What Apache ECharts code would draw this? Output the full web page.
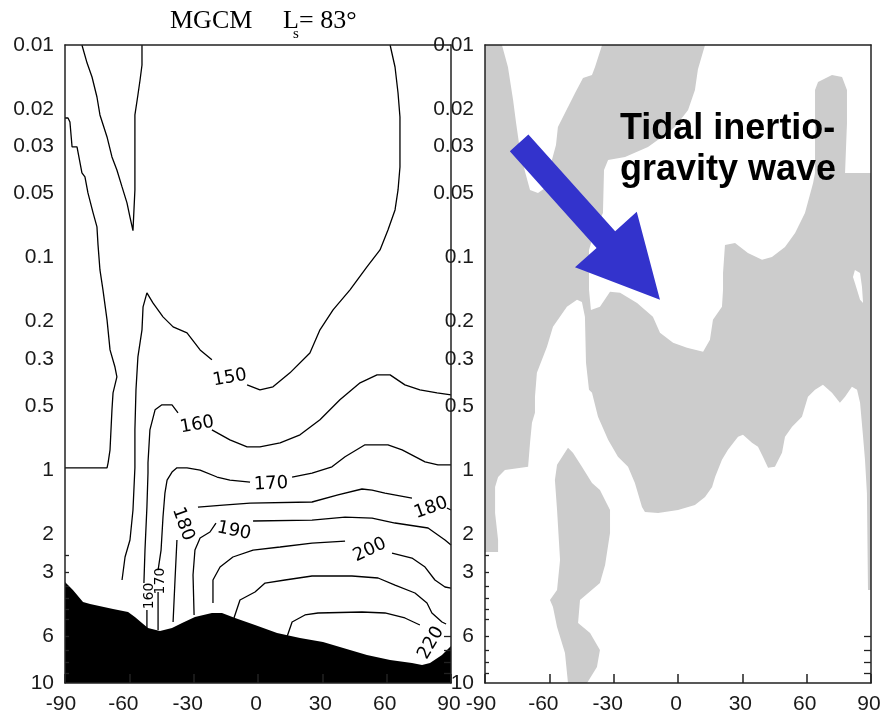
<!DOCTYPE html>
<html>
<head>
<meta charset="utf-8">
<title>MGCM Ls = 83</title>
<script src="https://cdn.jsdelivr.net/npm/echarts@6/dist/echarts.min.js"></script>
<style>
  html, body { margin: 0; padding: 0; background: #fff; }
  #main { width: 884px; height: 718px; }
</style>
</head>
<body>
<div id="main"></div>
<script>
// axes: latitude (deg) and pressure (mbar, log scale, top = 0.01)
const latTicks = [-90, -60, -30, 0, 30, 60, 90];
const pTicks = [0.01, 0.02, 0.03, 0.05, 0.1, 0.2, 0.3, 0.5, 1, 2, 3, 6, 10];
const pTickText = ['0.01', '0.02', '0.03', '0.05', '0.1', '0.2', '0.3', '0.5', '1', '2', '3', '6', '10'];
const pMinor = [2.5, 3, 3.5, 4, 4.5, 5, 6, 7, 8, 9];
const pMinorRight = [6, 7, 8, 9];

// left panel: temperature contours, points are [lat, p]
const c140a = [[-82.1, 0.0100], [-79.7, 0.01216], [-77.4, 0.01414], [-75.1, 0.01756], [-73.7, 0.02133], [-70.4, 0.02706], [-68.1, 0.03361], [-65.8, 0.03869], [-63.4, 0.04648], [-61.1, 0.05528], [-59.7, 0.06441], [-58.3, 0.07461], [-57.4, 0.04803], [-57.4, 0.03115], [-57.4, 0.02133], [-56.0, 0.01718], [-55.0, 0.01461], [-54.1, 0.01242], [-54.1, 0.0100]];
const c140b = [[-90, 0.02204], [-88.6, 0.02204], [-87.7, 0.02301], [-86.7, 0.03016], [-84.4, 0.03016], [-82.1, 0.03996], [-80.7, 0.04173], [-79.3, 0.04961], [-76.9, 0.0616], [-75.1, 0.07167], [-74.6, 0.0871], [-73.7, 0.1142], [-72.3, 0.1417], [-70.4, 0.1961], [-69.0, 0.2714], [-66.7, 0.3268], [-65.8, 0.3634], [-67.6, 0.4321], [-68.1, 0.5194], [-69.0, 0.8007], [-69.9, 0.9218], [-70.4, 0.973], [-90, 0.973]];
const c150a = [[61.6, 0.0100], [63.9, 0.01269], [65.3, 0.01682], [66.2, 0.0218], [66.2, 0.03745], [65.3, 0.04803], [63.9, 0.05964], [60.6, 0.07405], [56.9, 0.09194], [50.8, 0.1105], [42.9, 0.1417], [35.0, 0.176], [28.9, 0.2185], [24.2, 0.2808], [14.9, 0.348], [7.0, 0.405], [0.9, 0.4183], [-5.1, 0.3963]];
const c150b = [[-21.5, 0.3023], [-27.0, 0.2714], [-33.1, 0.2257], [-39.6, 0.2115], [-44.3, 0.1898], [-49.0, 0.1632], [-51.8, 0.1464], [-52.7, 0.1448], [-53.6, 0.1703], [-54.1, 0.2185], [-56.0, 0.2927], [-56.9, 0.4183], [-57.4, 0.6449], [-57.4, 0.973], [-58.3, 1.537], [-59.7, 2.127], [-62.0, 2.556], [-63.4, 3.279]];
const c160a = [[-21.5, 0.6449], [-13.1, 0.7187], [-5.1, 0.7752], [0.9, 0.7752], [10.3, 0.7424], [19.6, 0.6808], [28.9, 0.5788], [38.2, 0.4661], [47.6, 0.3878], [55.5, 0.3556], [61.6, 0.3556], [68.5, 0.3963], [75.5, 0.4183], [83.5, 0.4321], [90, 0.4416]];
const c160b = [[-37.3, 0.5365], [-40.1, 0.492], [-44.8, 0.492], [-48.0, 0.5194], [-50.4, 0.6449], [-51.3, 0.9218], [-51.3, 1.03], [-51.8, 1.488], [-52.7, 2.37], [-53.2, 3.388]];
const c160c = [[-51.8, 4.536], [-51.8, 5.513]];
const c170a = [[-3.7, 1.135], [-13.1, 1.111], [-19.1, 1.075], [-27.0, 0.9967], [-33.1, 0.973], [-37.8, 0.973], [-40.1, 1.019], [-42.4, 1.111], [-43.4, 1.279], [-44.3, 1.658], [-45.2, 2.37], [-46.6, 2.943]];
const c170b = [[-46.6, 3.734], [-46.6, 5.633]];
const c170c = [[15.9, 1.075], [25.2, 1.03], [34.5, 0.9625], [40.6, 0.8638], [49.9, 0.7586], [60.6, 0.7586], [67.2, 0.8007], [77.9, 0.9118], [83.9, 0.9419], [90, 0.9419]];
const c180a = [[-28.0, 1.488], [-16.3, 1.456], [-3.7, 1.425], [25.2, 1.409], [37.3, 1.306], [48.5, 1.224], [53.2, 1.238], [59.2, 1.279], [71.8, 1.35]];
const c180b = [[88.1, 1.504], [90, 1.537]];
const c180c = [[-37.8, 2.127], [-38.7, 3.279], [-39.6, 5.165]];
const c190a = [[-2.3, 1.731], [25.2, 1.713], [40.6, 1.658], [53.2, 1.676], [63.9, 1.769], [79.3, 1.867], [87.2, 2.127], [90, 2.245]];
const c190b = [[-19.6, 1.769], [-22.4, 1.95], [-27.0, 2.081], [-29.4, 2.37], [-30.3, 3.106], [-29.8, 4.788]];
const c200a = [[-21.0, 4.206], [-21.0, 3.279], [-17.7, 2.849], [-11.7, 2.556], [-2.3, 2.37], [10.3, 2.294], [25.2, 2.197], [40.6, 2.15]];
const c200b = [[62.5, 2.448], [71.8, 2.584], [77.9, 2.849], [82.5, 3.279], [87.2, 3.537], [90, 3.576]];
const c210 = [[-11.2, 4.946], [-8.4, 4.072], [-1.4, 3.734], [3.3, 3.388], [12.6, 3.279], [25.2, 3.14], [43.8, 3.14], [56.0, 3.209], [63.9, 3.462], [73.2, 3.774], [78.8, 4.206], [81.1, 4.686], [85.8, 5.165], [87.7, 5.279]];
const c220 = [[13.5, 6.077], [15.9, 5.165], [21.9, 4.788], [28.0, 4.686], [48.5, 4.636], [59.2, 4.686], [68.5, 4.946], [75.5, 5.336]];
const contours = [c140a, c140b, c150a, c150b, c160a, c160b, c160c, c170a, c170b, c170c,
  c180a, c180b, c180c, c190a, c190b, c200a, c200b, c210, c220];

// contour labels
const labelPos = [[-13.1, 0.368], [-28.4, 0.611], [6.1, 1.16], [80.7, 1.504], [-35.0, 1.789], [-11.2, 1.929], [52.2, 2.37], [80.7, 6.484], [-50.8, 3.899], [-45.7, 3.315]];
const labelText = ['150', '160', '170', '180', '180', '190', '200', '220', '160', '170'];
const labelAngle = [10, 10, 3, 20, -70, -12, 25, 60, 90, 90];

// surface topography (top of the black area)
const terrain = [[-90, 3.351], [-86.3, 3.654], [-81.6, 4.161], [-78.3, 4.252], [-67.6, 4.487], [-60.6, 4.636], [-57.4, 4.893], [-54.1, 5.222], [-51.3, 5.513], [-45.7, 5.694], [-40.1, 5.513], [-35.4, 5.222], [-29.4, 4.893], [-21.5, 4.686], [-16.8, 4.686], [-10.7, 4.946], [-1.4, 5.336], [8.9, 5.819], [19.6, 6.143], [30.3, 6.414], [42.9, 6.994], [50.8, 7.383], [61.6, 7.792], [71.8, 8.05], [76.5, 8.226], [80.2, 8.05], [85.8, 7.383], [90, 6.698]];

// right panel: shaded area, drawn as the whole panel minus clear areas plus one shaded band
const shadeAll = [[-90, 0.01], [90, 0.01], [90, 10], [-90, 10]];
const clearTopLeft = [[-82.1, 0.0100], [-35.4, 0.0100], [-38.7, 0.01269], [-40.1, 0.01384], [-44.3, 0.0143], [-48.0, 0.01682], [-52.7, 0.02088], [-56.0, 0.02429], [-56.9, 0.02951], [-58.8, 0.03472], [-60.6, 0.04083], [-62.0, 0.04699], [-65.3, 0.04961], [-69.0, 0.04803], [-71.3, 0.03953], [-73.7, 0.03115], [-75.5, 0.02326], [-76.9, 0.01813], [-79.3, 0.01269]];
const clearTopRight = [[12.6, 0.0100], [90, 0.0100], [90, 0.03996], [77.9, 0.03996], [78.8, 0.02326], [78.8, 0.01627], [76.5, 0.01414], [71.8, 0.01384], [65.3, 0.01494], [63.9, 0.01627], [63.9, 0.03996], [63.0, 0.04457], [59.2, 0.0616], [54.6, 0.0765], [49.9, 0.089], [43.8, 0.09918], [39.2, 0.1024], [32.6, 0.09497], [26.6, 0.08524], [21.9, 0.0871], [21.0, 0.1179], [21.0, 0.1417], [20.5, 0.1703], [16.3, 0.1961], [14.9, 0.2435], [11.7, 0.2773], [4.2, 0.2655], [-2.3, 0.2515], [-8.4, 0.2257], [-11.7, 0.1898], [-19.1, 0.1632], [-27.0, 0.1464], [-31.7, 0.1448], [-36.4, 0.1703], [-40.6, 0.176], [-41.5, 0.1417], [-41.5, 0.09194], [-38.7, 0.07405], [-35.0, 0.0616], [-34.5, 0.03869], [-32.6, 0.03472], [-24.7, 0.03361], [-14.0, 0.03016], [-7.5, 0.02706], [-1.4, 0.02429], [4.7, 0.02021], [7.9, 0.01627], [9.3, 0.0130]];
const clearSpot = [[82.5, 0.1142], [84.9, 0.1179], [85.8, 0.1374], [86.3, 0.1632], [84.9, 0.1579], [82.5, 0.1316], [81.6, 0.1234]];
const clearLower = [[-90, 2.421], [-83.9, 2.421], [-83.9, 2.127], [-85.3, 1.587], [-85.3, 1.198], [-83.9, 1.075], [-80.7, 0.9967], [-69.9, 0.9625], [-69.0, 0.7424], [-68.1, 0.5978], [-66.7, 0.5365], [-66.7, 0.4513], [-65.8, 0.348], [-61.1, 0.2627], [-58.3, 0.2115], [-51.8, 0.1703], [-47.1, 0.1579], [-44.8, 0.1614], [-43.4, 0.1898], [-42.9, 0.3123], [-41.5, 0.4183], [-40.1, 0.4321], [-37.3, 0.5603], [-32.6, 0.7187], [-28.0, 0.8638], [-23.3, 0.9625], [-20.1, 1.147], [-16.8, 1.488], [-15.4, 1.57], [-9.3, 1.587], [0, 1.537], [7.9, 1.456], [12.6, 1.335], [15.9, 1.198], [17.3, 1.075], [20.5, 0.8922], [23.3, 0.8007], [28.0, 0.6957], [30.3, 0.6808], [34.5, 0.7424], [37.3, 0.7752], [39.6, 0.8638], [42.0, 0.973], [45.2, 0.9625], [48.5, 0.8271], [49.9, 0.6957], [53.2, 0.6243], [57.8, 0.5603], [60.6, 0.4513], [63.9, 0.4183], [67.6, 0.3963], [71.8, 0.4321], [75.5, 0.4815], [77.9, 0.4513], [81.1, 0.405], [83.5, 0.4183], [84.9, 0.4815], [86.3, 0.6957], [87.2, 0.8922], [88.1, 1.279], [88.6, 3.654], [90, 3.654], [90, 10], [-90, 10]];
const shadeLowBand = [[-51.3, 0.7836], [-56.4, 0.9419], [-57.4, 1.111], [-56.4, 1.537], [-55.0, 2.641], [-56.4, 3.654], [-59.7, 4.072], [-58.3, 4.392], [-56.4, 5.453], [-52.7, 7.225], [-51.3, 10], [-42.4, 10], [-37.8, 8.406], [-36.4, 6.994], [-41.0, 5.819], [-46.6, 5.222], [-45.7, 4.072], [-36.4, 3.388], [-34.0, 2.788], [-31.7, 1.971], [-31.7, 1.537], [-36.4, 1.238], [-40.1, 1.147], [-44.8, 0.9625], [-49.0, 0.8271]];

// arrow annotation: tail and tip [lat, p]
const arrowTail = [-74.1, 0.02888];
const arrowTip = [-8.4, 0.1579];

const lp = p => Math.log10(p);
const FONT = '"Liberation Sans", Arial, sans-serif';
const FRAME = '#222';

var chartDom = document.getElementById('main');
var myChart = echarts.init(chartDom);
var option;

function xAxisCfg(gridIndex, position) {
  const bottom = position === 'bottom';
  return {
    type: 'value', gridIndex: gridIndex, position: position, min: -90, max: 90, interval: 30, z: 10,
    axisLine: { show: true, onZero: false, lineStyle: { color: FRAME, width: 1.5 } },
    axisTick: { show: bottom, inside: true, length: 9, lineStyle: { color: FRAME, width: 1.5 } },
    axisLabel: {
      show: bottom, margin: 11, fontSize: 21, fontFamily: FONT, color: '#1a1a1a',
      formatter: function (v) {
        if (v === -90) return '{m|' + v + '}';
        return v < 0 ? '{n|' + v + '}' : '{p|' + v + '}';
      },
      rich: {
        n: { fontSize: 21, fontFamily: FONT, color: '#1a1a1a', padding: [0, 12, 0, 0] },
        m: { fontSize: 21, fontFamily: FONT, color: '#1a1a1a', padding: [0, 8, 0, 0] },
        p: { fontSize: 21, fontFamily: FONT, color: '#1a1a1a', padding: [0, 4, 0, 0] }
      }
    },
    splitLine: { show: false }
  };
}

function yAxisCfg(gridIndex, position) {
  const left = position === 'left';
  return {
    type: 'value', gridIndex: gridIndex, position: position, min: -2, max: 1, inverse: true, z: 10,
    axisLine: { show: true, onZero: false, lineStyle: { color: FRAME, width: 1.5 } },
    axisTick: {
      show: true, inside: true, length: left ? 4 : 7,
      customValues: (left ? pMinor : pMinorRight).map(lp),
      lineStyle: { color: FRAME, width: 1.3 }
    },
    axisLabel: {
      show: left, margin: 11, fontSize: 21, fontFamily: FONT, color: '#1a1a1a',
      customValues: pTicks.map(lp),
      formatter: function (v) {
        for (let i = 0; i < pTicks.length; i++) {
          if (Math.abs(lp(pTicks[i]) - v) < 1e-6) return pTickText[i];
        }
        return '';
      }
    },
    splitLine: { show: false }
  };
}

function regionSeries(pts, color, axisIndex, z) {
  return {
    type: 'custom', xAxisIndex: axisIndex, yAxisIndex: axisIndex, clip: true, silent: true, z: z,
    data: [[pts[0][0], lp(pts[0][1])]],
    renderItem: function (params, api) {
      return {
        type: 'polygon',
        shape: { points: pts.map(d => api.coord([d[0], lp(d[1])])) },
        style: { fill: color, stroke: null }
      };
    }
  };
}

const series = [];

// left panel
contours.forEach(function (c) {
  series.push({
    type: 'line', xAxisIndex: 0, yAxisIndex: 0, z: 2, silent: true,
    symbol: 'none', smooth: false, clip: true,
    lineStyle: { color: '#000', width: 1.3 },
    data: c.map(d => [d[0], lp(d[1])])
  });
});
series.push(regionSeries(terrain.concat([[90, 10], [-90, 10]]), '#000', 0, 3));
series.push({
  type: 'custom', xAxisIndex: 0, yAxisIndex: 0, z: 4, silent: true, clip: true,
  data: labelPos.map(d => [d[0], lp(d[1])]),
  renderItem: function (params, api) {
    const i = params.dataIndex;
    const c = api.coord([api.value(0), api.value(1)]);
    const small = i >= 8;
    return {
      type: 'text', x: c[0], y: c[1], rotation: labelAngle[i] * Math.PI / 180,
      style: {
        text: labelText[i], fill: '#000',
        font: (small ? '14px' : '18px') + ' "DejaVu Sans", sans-serif',
        align: 'center', verticalAlign: 'middle', textAlign: 'center', textVerticalAlign: 'middle'
      }
    };
  }
});

// right panel
series.push(regionSeries(shadeAll, '#cccccc', 2, 1));
series.push(regionSeries(clearTopLeft, '#ffffff', 2, 1));
series.push(regionSeries(clearTopRight, '#ffffff', 2, 1));
series.push(regionSeries(clearSpot, '#ffffff', 2, 1));
series.push(regionSeries(clearLower, '#ffffff', 2, 1));
series.push(regionSeries(shadeLowBand, '#cccccc', 2, 1));
series.push({
  type: 'custom', xAxisIndex: 2, yAxisIndex: 2, z: 5, silent: true, clip: true,
  data: [[arrowTail[0], lp(arrowTail[1]), arrowTip[0], lp(arrowTip[1])]],
  renderItem: function (params, api) {
    const a = api.coord([api.value(0), api.value(1)]);
    const b = api.coord([api.value(2), api.value(3)]);
    const dx = b[0] - a[0], dy = b[1] - a[1];
    const len = Math.sqrt(dx * dx + dy * dy);
    const ux = dx / len, uy = dy / len, nx = -uy, ny = ux;
    const hw = 12.5, headW = 41.5, headL = 81;
    const bx = b[0] - ux * headL, by = b[1] - uy * headL;
    return {
      type: 'polygon',
      shape: {
        points: [
          [a[0] + nx * hw, a[1] + ny * hw],
          [bx + nx * hw, by + ny * hw],
          [bx + nx * headW, by + ny * headW],
          [b[0], b[1]],
          [bx - nx * headW, by - ny * headW],
          [bx - nx * hw, by - ny * hw],
          [a[0] - nx * hw, a[1] - ny * hw]
        ]
      },
      style: { fill: '#3333cc' }
    };
  }
});

option = {
  backgroundColor: '#fff',
  animation: false,
  grid: [
    { left: 65, top: 45, width: 386, height: 638 },
    { left: 485, top: 45, width: 386, height: 638 }
  ],
  xAxis: [xAxisCfg(0, 'bottom'), xAxisCfg(0, 'top'), xAxisCfg(1, 'bottom'), xAxisCfg(1, 'top')],
  yAxis: [yAxisCfg(0, 'left'), yAxisCfg(0, 'right'), yAxisCfg(1, 'left'), yAxisCfg(1, 'right')],
  graphic: [
    { type: 'text', x: 170, y: 21, z: 100, style: { text: 'MGCM', font: '26px "Liberation Serif", "Times New Roman", serif', fill: '#000', align: 'left', verticalAlign: 'middle', textAlign: 'left', textVerticalAlign: 'middle' } },
    { type: 'text', x: 283, y: 21, z: 100, style: { text: 'L', font: '26px "Liberation Serif", "Times New Roman", serif', fill: '#000', align: 'left', verticalAlign: 'middle', textAlign: 'left', textVerticalAlign: 'middle' } },
    { type: 'text', x: 293, y: 34, z: 100, style: { text: 's', font: '15px "Liberation Serif", "Times New Roman", serif', fill: '#000', align: 'left', verticalAlign: 'middle', textAlign: 'left', textVerticalAlign: 'middle' } },
    { type: 'text', x: 299, y: 21, z: 100, style: { text: '= 83°', font: '26px "Liberation Serif", "Times New Roman", serif', fill: '#000', align: 'left', verticalAlign: 'middle', textAlign: 'left', textVerticalAlign: 'middle' } },
    { type: 'text', x: 620, y: 129, z: 100, style: { text: 'Tidal inertio-', font: 'bold 36px ' + FONT, fill: '#000', align: 'left', verticalAlign: 'middle', textAlign: 'left', textVerticalAlign: 'middle' } },
    { type: 'text', x: 620, y: 170, z: 100, style: { text: 'gravity wave', font: 'bold 36px ' + FONT, fill: '#000', align: 'left', verticalAlign: 'middle', textAlign: 'left', textVerticalAlign: 'middle' } }
  ],
  series: series
};

option && myChart.setOption(option);
</script>
</body>
</html>
